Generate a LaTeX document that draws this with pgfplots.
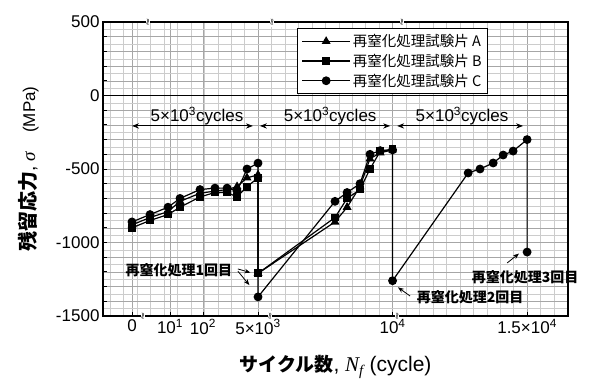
\documentclass[border=0pt]{standalone}
\usepackage{fontspec}
\setmainfont{Liberation Sans}
\newfontfamily\jp{Noto Sans CJK JP}
\newfontfamily\serif{Liberation Serif}
\usepackage{pgfplots}
\pgfplotsset{compat=1.18}
\usetikzlibrary{arrows.meta}
\begin{document}
\begin{tikzpicture}
\begin{axis}[
  scale only axis, width=465pt, height=294pt,
  xmin=-0.762, xmax=16.52, ymin=-1500, ymax=500,
  clip=false,
  axis line style={line width=1.4pt},
  tick pos=left, tick align=inside,
  major tick length=4pt, minor tick length=0pt,
  tick style={black, line width=0.8pt},
  xtick={0.316,1.73,2.955,5,10,15},
  xticklabels={0,10\textsuperscript{1},10\textsuperscript{2},5×10\textsuperscript{3},10\textsuperscript{4},1.5×10\textsuperscript{4}},
  minor xtick={-0.5,0,...,16.5},
  ytick={-1500,-1400,...,500},
  yticklabels={-1500,,,,,-1000,,,,,-500,,,,,0,,,,,500},
  minor y tick num=1,
  grid=both,
  major grid style={gray!70, line width=0.55pt},
  minor grid style={gray!40, line width=0.35pt},
  ticklabel style={font=\fontsize{17}{17}\selectfont},
  extra y ticks={0}, extra y tick labels={},
  extra y tick style={grid=major, major grid style={black, line width=1.4pt}, major tick length=0pt},
  xlabel={{\jp\bfseries\fontsize{19}{19}\selectfont サイクル数}, {\serif\itshape N}\textsubscript{\serif\itshape f} (cycle)},
  ylabel={{\jp\bfseries\fontsize{20}{20}\selectfont 残留応力}, {\serif\itshape σ}\quad {\fontsize{17}{17}\selectfont(MPa)}},
  xlabel style={at={(axis description cs:0.5,-0.173)}, anchor=center, font=\fontsize{21}{21}\selectfont},
  ylabel style={at={(axis description cs:-0.161,0.5)}, anchor=center, font=\fontsize{19}{19}\selectfont},
  legend style={at={(axis description cs:0.417,0.98)}, anchor=north west, draw=black, line width=1.3pt, fill=white, font=\jp\fontsize{14.5}{16}\selectfont, inner xsep=4pt, inner ysep=4pt, row sep=2pt},
  legend cell align=left,
  legend image code/.code={\draw[mark repeat=2, mark phase=2] plot coordinates {(0pt,0pt) (24pt,0pt) (48pt,0pt)};},
]
% Specimen A
\addplot[black, line width=1.2pt, mark=triangle*, mark size=4pt, mark options={solid}] coordinates {
 (0.316,-880) (0.985,-830) (1.654,-790) (2.10,-720) (2.844,-665) (3.40,-650) (3.85,-640) (4.22,-620) (4.59,-560) (5.0,-540)
 (5.0,-1210) (7.86,-860) (8.31,-760) (8.79,-620) (9.16,-430) (9.54,-390) (10,-370)};
\addlegendentry{再窒化処理試験片 A}
% Specimen B
\addplot[black, line width=1.2pt, mark=square*, mark size=3.3pt, mark options={solid}] coordinates {
 (0.316,-900) (0.985,-850) (1.654,-810) (2.10,-760) (2.844,-690) (3.40,-660) (3.85,-660) (4.22,-690) (4.59,-620) (5.0,-560)
 (5.0,-1210) (7.86,-830) (8.31,-700) (8.79,-640) (9.16,-500) (9.54,-380) (10,-365)};
\addlegendentry{再窒化処理試験片 B}
% Specimen C
\addplot[black, line width=1.2pt, mark=*, mark size=3.8pt, mark options={solid}] coordinates {
 (0.316,-860) (0.985,-810) (1.654,-760) (2.10,-700) (2.844,-640) (3.40,-630) (3.85,-630) (4.22,-650) (4.59,-500) (5.0,-460)
 (5.0,-1370) (7.86,-720) (8.31,-660) (8.79,-600) (9.16,-400) (9.54,-375) (10,-370)
 (10,-1260) (12.81,-527) (13.25,-500) (13.74,-459) (14.11,-405) (14.48,-378) (15,-300) (15,-1065)};
\addlegendentry{再窒化処理試験片 C}

% cycle span arrows
\draw[{Stealth[length=7pt]}-{Stealth[length=7pt]}, line width=0.9pt] (axis cs:0.316,-207) -- (axis cs:4.81,-207);
\draw[{Stealth[length=7pt]}-{Stealth[length=7pt]}, line width=0.9pt] (axis cs:5.07,-207) -- (axis cs:9.91,-207);
\draw[{Stealth[length=7pt]}-{Stealth[length=7pt]}, line width=0.9pt] (axis cs:10.17,-207) -- (axis cs:14.85,-207);
\node[font=\fontsize{17}{17}\selectfont] at (axis cs:2.73,-139) {5×10\textsuperscript{3}cycles};
\node[font=\fontsize{17}{17}\selectfont] at (axis cs:7.68,-139) {5×10\textsuperscript{3}cycles};
\node[font=\fontsize{17}{17}\selectfont] at (axis cs:12.58,-139) {5×10\textsuperscript{3}cycles};

% annotations
\node[font=\jp\bfseries\fontsize{14}{14}\selectfont] at (axis cs:2.06,-1187) {再窒化処理1回目};
\draw[-{Stealth[length=6pt]}, line width=0.8pt] (axis cs:4.25,-1180) -- (axis cs:4.72,-1205);
\draw[-{Stealth[length=6pt]}, line width=0.8pt] (axis cs:4.25,-1195) -- (axis cs:4.68,-1290);
\node[font=\jp\bfseries\fontsize{14}{14}\selectfont] at (axis cs:12.88,-1371) {再窒化処理2回目};
\draw[-{Stealth[length=6pt]}, line width=0.8pt] (axis cs:10.65,-1364) -- (axis cs:10.2,-1305);
\node[font=\jp\bfseries\fontsize{14}{14}\selectfont] at (axis cs:14.93,-1235) {再窒化処理3回目};
\draw[-{Stealth[length=6pt]}, line width=0.8pt] (axis cs:14.26,-1139) -- (axis cs:14.7,-1075);

% axis break marks
\node[fill=white, inner sep=0.6pt, font=\small] at (axis cs:0.725,-1500) {$\wr\!\wr$};
\node[fill=white, inner sep=0.6pt, font=\small] at (axis cs:5.446,-1500) {$\wr\!\wr$};
\node[fill=white, inner sep=0.6pt, font=\small] at (axis cs:10.167,-1500) {$\wr\!\wr$};
\node[fill=white, inner sep=0.6pt, font=\small] at (axis cs:0.911,500) {$\wr\!\wr$};
\node[fill=white, inner sep=0.6pt, font=\small] at (axis cs:5.52,500) {$\wr\!\wr$};
\node[fill=white, inner sep=0.6pt, font=\small] at (axis cs:10.35,500) {$\wr\!\wr$};
\end{axis}
\pgfresetboundingbox
\path ([shift={(-103pt,-69pt)}]current axis.south west) rectangle ([shift={(24pt,22pt)}]current axis.north east);
\end{tikzpicture}
\end{document}
